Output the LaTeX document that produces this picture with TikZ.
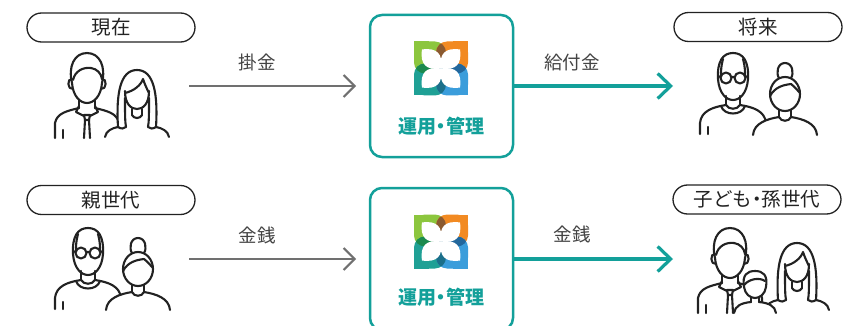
\documentclass[tikz,border=0pt]{standalone}
\usepackage{fontspec}
\newfontfamily\jp{Noto Sans CJK JP}
\usetikzlibrary{arrows.meta}

\definecolor{ink}{HTML}{222222}
\definecolor{brandteal}{HTML}{13A09A}
\definecolor{arrowgrey}{HTML}{707070}
\definecolor{labelgrey}{HTML}{444444}
\definecolor{leafgreen}{HTML}{8CC63E}
\definecolor{leaforange}{HTML}{F28A22}
\definecolor{leafteal}{HTML}{1FA095}
\definecolor{leafblue}{HTML}{3B9DDB}
\definecolor{mixbrown}{HTML}{8B5A30}
\definecolor{mixgreen}{HTML}{1B8A4E}
\definecolor{mixblue}{HTML}{23679C}
\definecolor{mixteal}{HTML}{1B6F8A}

\tikzset{
  figline/.style={draw=ink, line width=2.1pt, line cap=round, line join=round},
  pill/.style={draw=ink, line width=1.3pt, rounded corners=14.5pt,
    minimum width=168pt, minimum height=29pt, inner sep=0pt,
    font=\jp\fontsize{19.5}{19.5}\selectfont, text=ink},
  hub/.style={draw=brandteal, line width=2.5pt, rounded corners=12pt,
    minimum width=143pt, minimum height=142pt, inner sep=0pt},
  hubtext/.style={font=\jp\bfseries\fontsize{19}{19}\selectfont, text=brandteal, inner sep=0pt},
  flowlabel/.style={font=\jp\fontsize{18.5}{18.5}\selectfont, text=labelgrey, inner sep=0pt},
  inflow/.style={draw=arrowgrey, line width=2pt, -{Straight Barb[length=11pt,width=22pt]}},
  outflow/.style={draw=brandteal, line width=3.2pt, -{Straight Barb[length=13pt,width=25pt]}},
  % four-leaf brand mark, 54 units square, centred on the pic origin
  brandmark/.pic={
    \fill[leafgreen, rounded corners=11pt] (-27,-27) rectangle (5,5);
    \fill[leafgreen] (-27,-27) rectangle (-12,-12);
    \fill[leaforange, rounded corners=11pt] (-5,-27) rectangle (27,5);
    \fill[leaforange] (12,-27) rectangle (27,-12);
    \fill[leafteal, rounded corners=11pt] (-27,-5) rectangle (5,27);
    \fill[leafteal] (-27,12) rectangle (-12,27);
    \fill[leafblue, rounded corners=11pt] (-5,-5) rectangle (27,27);
    \fill[leafblue] (12,12) rectangle (27,27);
    \begin{scope}
      \clip[rounded corners=11pt] (-27,-27) rectangle (5,5);
      \fill[mixbrown, rounded corners=11pt] (-5,-27) rectangle (27,5);
      \fill[mixgreen, rounded corners=11pt] (-27,-5) rectangle (5,27);
    \end{scope}
    \begin{scope}
      \clip[rounded corners=11pt] (-5,-5) rectangle (27,27);
      \fill[mixblue, rounded corners=11pt] (-5,-27) rectangle (27,5);
      \fill[mixteal, rounded corners=11pt] (-27,-5) rectangle (5,27);
    \end{scope}
    % white petals pointing to the corners
    \fill[white] (0,0) .. controls (-14.8,2.2) and (-21.2,-4.2) .. (-19,-19)
      .. controls (-4.2,-21.2) and (2.2,-14.8) .. (0,0);
    \fill[white] (0,0) .. controls (14.8,2.2) and (21.2,-4.2) .. (19,-19)
      .. controls (4.2,-21.2) and (-2.2,-14.8) .. (0,0);
    \fill[white] (0,0) .. controls (-14.8,-2.2) and (-21.2,4.2) .. (-19,19)
      .. controls (-4.2,21.2) and (2.2,14.8) .. (0,0);
    \fill[white] (0,0) .. controls (14.8,-2.2) and (21.2,4.2) .. (19,19)
      .. controls (4.2,21.2) and (-2.2,14.8) .. (0,0);
  },
  % man in shirt and tie
  youngman/.pic={
    \fill[white] (-32,70) -- (-32,42) .. controls (-30,32) and (-20,30) .. (-8,27)
      -- (-8,20) -- (-15,8) -- (-16,-14) -- (0,-28) -- (16,-14) -- (15,8) -- (8,20)
      -- (8,27) .. controls (20,30) and (30,32) .. (32,42) -- (32,70) -- cycle;
    \draw[figline] (-15,2) .. controls (-19,-14) and (-13,-28) .. (0,-28)
      .. controls (13,-28) and (19,-14) .. (15,2);
    \draw[figline] (-15,2) .. controls (-14,15) and (-7,22) .. (0,22)
      .. controls (7,22) and (14,15) .. (15,2);
    \draw[figline] (-14,-1) .. controls (-12,-10) and (-4,-14) .. (4,-13)
      .. controls (10,-12) and (14,-8) .. (15,-2);
    \draw[figline] (-15,-2) .. controls (-20,-3) and (-20,9) .. (-14,8);
    \draw[figline] (15,-2) .. controls (20,-3) and (20,9) .. (14,8);
    \draw[figline] (-8,19) -- (-8,27) (8,19) -- (8,27);
    \draw[figline] (-8,27) .. controls (-20,30) and (-30,32) .. (-32,42) -- (-32,57);
    \draw[figline] (8,27) .. controls (20,30) and (30,32) .. (32,42) -- (32,57);
    \draw[figline] (-8,25) -- (-11,31) -- (-3,35) (8,25) -- (11,31) -- (3,35);
    \draw[figline] (-3,34) -- (3,34) -- (2,39) -- (-2,39) -- cycle;
    \draw[figline] (-2,39) -- (-3,57) (2,39) -- (3,57);
    \draw[figline] (-24,49) -- (-24,57) (24,49) -- (24,57);
  },
  % woman with long hair
  longhair/.pic={
    \fill[white] (-32,60) -- (-32,40) .. controls (-30,35) and (-24,33) .. (-19,33)
      -- (-19,10) -- (-16,-16) -- (0,-24) -- (16,-16) -- (19,10) -- (19,33)
      .. controls (24,33) and (30,35) .. (32,40) -- (32,60) -- cycle;
    \draw[figline] (-19,33) .. controls (-21,0) and (-17,-24) .. (0,-24)
      .. controls (17,-24) and (21,0) .. (19,33);
    \draw[figline] (-12,-3) .. controls (-12,10) and (-6,15) .. (0,15)
      .. controls (6,15) and (12,10) .. (12,-3);
    \draw[figline] (-12,-1) .. controls (-3,-3) and (4,-9) .. (6,-15)
      .. controls (8,-9) and (10,-5) .. (12,-1);
    \draw[figline] (-12,4) .. controls (-12,20) and (-12,28) .. (-11,33);
    \draw[figline] (12,4) .. controls (12,20) and (12,28) .. (11,33);
    \draw[figline] (-19,33) .. controls (-16,35) and (-13,35) .. (-11,33);
    \draw[figline] (19,33) .. controls (16,35) and (13,35) .. (11,33);
    \draw[figline] (-5,15) -- (-5,21) (5,15) -- (5,21);
    \draw[figline] (-5,21) .. controls (-3,25) and (3,25) .. (5,21);
    \draw[figline] (-19,33) .. controls (-25,34) and (-31,37) .. (-32,43);
    \draw[figline] (19,33) .. controls (25,34) and (31,37) .. (32,43);
  },
  % older man with glasses
  oldman/.pic={
    \fill[white] (-33,70) -- (-33,44) .. controls (-32,32) and (-20,28) .. (-7,26)
      -- (-7,17) -- (-15,4) -- (-15,-14) -- (0,-26) -- (15,-14) -- (15,4) -- (7,17)
      -- (7,26) .. controls (20,28) and (32,32) .. (33,44) -- (33,70) -- cycle;
    \draw[figline] (-15,0) .. controls (-16,-18) and (-10,-26) .. (0,-26)
      .. controls (10,-26) and (16,-18) .. (15,0);
    \draw[figline] (-15,0) .. controls (-14,14) and (-7,21) .. (0,21)
      .. controls (7,21) and (14,14) .. (15,0);
    \draw[figline] (-10,-20) .. controls (-12,-13) and (-12,-8) .. (-12,-3);
    \draw[figline] (10,-20) .. controls (12,-13) and (12,-8) .. (12,-3);
    \draw[figline] (-7,-1) circle [radius=5.5] (7,-1) circle [radius=5.5];
    \draw[figline] (-1.5,-2) -- (1.5,-2) (-12.5,-2) -- (-15,-3) (12.5,-2) -- (15,-3);
    \draw[figline] (-7,17) -- (-7,26) (7,17) -- (7,26);
    \draw[figline] (-7,26) .. controls (-4,31) and (4,31) .. (7,26);
    \draw[figline] (-12,27) .. controls (-9,37) and (9,37) .. (12,27);
    \draw[figline] (-7,26) .. controls (-20,28) and (-32,32) .. (-33,44) -- (-33,55);
    \draw[figline] (7,26) .. controls (20,28) and (32,32) .. (33,44) -- (33,55);
    \draw[figline] (-25,48) -- (-25,55) (25,48) -- (25,55);
  },
  % older woman with a hair bun
  bunwoman/.pic={
    \fill[white] (-32,60) -- (-32,40) .. controls (-31,28) and (-18,24) .. (-6,22) -- (-6,15)
      -- (-15,2) -- (-15,-10) -- (-7,-18) -- (-7,-26) -- (0,-32) -- (7,-26) -- (7,-18)
      -- (15,-10) -- (15,2) -- (6,15) -- (6,22) .. controls (18,24) and (31,28) .. (32,40)
      -- (32,60) -- cycle;
    \draw[figline] (-6,-17) .. controls (-9,-21) and (-8,-32) .. (0,-32)
      .. controls (8,-32) and (9,-21) .. (6,-17);
    \draw[figline] (0,-1) ellipse [x radius=15, y radius=17];
    \draw[figline] (-15,1) .. controls (-10,-8) and (-2,-10) .. (6,-11)
      .. controls (10,-8) and (13,-4) .. (15,-2);
    \draw[figline] (-6,15) -- (-6,22) (6,15) -- (6,22);
    \draw[figline] (-6,22) .. controls (-4,27) and (4,27) .. (6,22);
    \draw[figline] (-6,22) .. controls (-18,24) and (-31,28) .. (-32,40);
    \draw[figline] (6,22) .. controls (18,24) and (31,28) .. (32,40);
  },
  % child
  child/.pic={
    \fill[white] (-21,45) -- (-21,28) .. controls (-20,21) and (-14,18) .. (-4,17) -- (-4,12)
      -- (-11,4) -- (-11,-9) -- (0,-14) -- (11,-9) -- (11,4) -- (4,12) -- (4,17)
      .. controls (14,18) and (20,21) .. (21,28) -- (21,45) -- cycle;
    \draw[figline] (-11,2) .. controls (-13,-10) and (-8,-14) .. (0,-14)
      .. controls (8,-14) and (13,-10) .. (11,2);
    \draw[figline] (-11,2) .. controls (-10,9) and (-5,13) .. (0,13)
      .. controls (5,13) and (10,9) .. (11,2);
    \draw[figline] (-11,0) .. controls (-6,-6) and (4,-8) .. (10,-4);
    \draw[figline] (-4,12) -- (-4,17) (4,12) -- (4,17);
    \draw[figline] (-4,17) .. controls (-14,18) and (-20,21) .. (-21,28);
    \draw[figline] (4,17) .. controls (14,18) and (20,21) .. (21,28);
  },
}

\begin{document}
\begin{tikzpicture}[x=1pt,y=-1pt]
  \useasboundingbox (0,0) rectangle (859,326);
  \clip (0,0) rectangle (859,326);
  \fill[white] (0,0) rectangle (859,326);

  % tags
  \node[pill] (tagnow)    at (111,27.5) {現在};
  \node[pill] (tagfuture) at (758,27)   {将来};
  \node[pill] (tagparent) at (111,200)  {親世代};
  \node[pill] (tagchild)  at (757,199.5) {子ども{\kern-5pt}・{\kern-5pt}孫世代};

  % people
  \pic at (87,81)   {youngman};
  \pic at (137,94)  {longhair};
  \pic at (733,79)  {oldman};
  \pic at (785,95)  {bunwoman};
  \pic at (88,254)  {oldman};
  \pic at (138,270) {bunwoman};
  \pic at (730,256) {youngman};
  \pic at (797,267) {longhair};
  \pic at (755,285) {child};

  % management hubs
  \node[hub] (hubtop) at (441.5,86)  {};
  \node[hub] (hubbot) at (441.5,259) {};
  \pic at (441,68.5)  {brandmark};
  \pic at (441,241.5) {brandmark};
  \node[hubtext] (hubtoptext) at (441,126) {運用{\kern-4.5pt}・{\kern-4.5pt}管理};
  \node[hubtext] (hubbottext) at (441,297) {運用{\kern-4.5pt}・{\kern-4.5pt}管理};

  % flows
  \coordinate (intop) at (189,86);
  \coordinate (inbot) at (189,259);
  \coordinate (outtop) at (673,86);
  \coordinate (outbot) at (673,259);
  \draw[inflow, shorten >=12.75pt] (intop) -- (hubtop.west);
  \draw[inflow, shorten >=12.75pt] (inbot) -- (hubbot.west);
  \draw[outflow] (hubtop.east) -- (outtop);
  \draw[outflow] (hubbot.east) -- (outbot);

  \node[flowlabel] (lblpremium) at (257,62)  {掛金};
  \node[flowlabel] (lblbenefit) at (572,62)  {給付金};
  \node[flowlabel] (lblmoneyin) at (257,235) {金銭};
  \node[flowlabel] (lblmoneyout) at (572,234) {金銭};
\end{tikzpicture}
\end{document}
